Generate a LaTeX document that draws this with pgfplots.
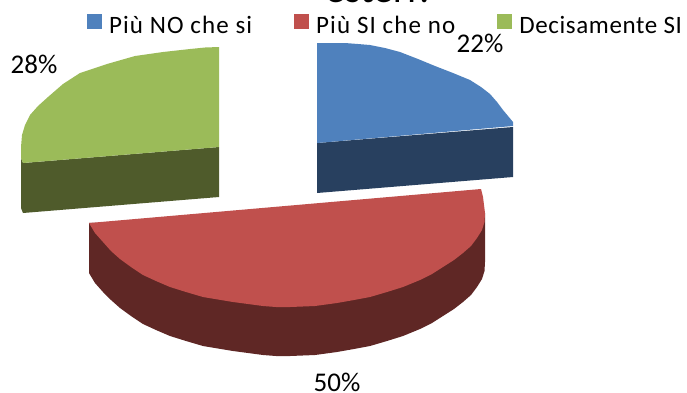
\documentclass[border=0pt]{standalone}
\usepackage{pgfplots}
\usepackage{fontspec}
\setmainfont{Carlito}
\newfontfamily\lsp[LetterSpace=4.5]{Carlito}
\newfontfamily\lspb[LetterSpace=2.5]{Carlito}
\pgfplotsset{compat=1.18}
\definecolor{cblue}{HTML}{4F81BD}
\definecolor{cred}{HTML}{C0504D}
\definecolor{cgreen}{HTML}{9BBB59}
\definecolor{dblue}{HTML}{28405F}
\definecolor{dred}{HTML}{5F2725}
\definecolor{dgreen}{HTML}{4F5B2B}
\begin{document}
\begin{tikzpicture}
\useasboundingbox (0,0) rectangle (687pt,392pt);
\clip (0,0) rectangle (687pt,392pt);
\begin{axis}[
  at={(0,0)}, anchor=south west,
  scale only axis, width=687pt, height=392pt,
  xmin=0, xmax=687, ymin=0, ymax=392, y dir=reverse,
  hide axis, clip=false,
  legend columns=3,
  legend style={draw=none, fill=none, at={(axis cs:87,13.5)}, anchor=north west,
    font=\fontsize{25}{25}\selectfont, inner sep=0pt, outer sep=0pt,
    /tikz/every odd column/.style={column sep=7pt},
    /tikz/every even column/.style={column sep=42pt},
    /tikz/column 4/.style={column sep=38pt},
    nodes={inner sep=0pt, outer sep=0pt}},
  legend image code/.code={\fill[#1,draw=none] (0pt,-3pt) rectangle (15pt,12pt);},
]
% side faces
\addplot[fill=dblue, draw=none, forget plot] coordinates {(317,143)(513,127)(513,177)(317,193)} --cycle;
\addplot[fill=dgreen, draw=none, forget plot] coordinates {(21,158)(23,163)(219,147)(219,197)(23,213)(21,208)} --cycle;
\addplot[fill=dred, draw=none, forget plot] coordinates {(89,223)(89,273)(95,283)(103,292)(111,300)(120,308)(131,316)(143,324)(156,330)(170,336)(186,341)(203,346)(233,351)(263,355)(276,356)(290,356)(315,355)(337,352)(354,349)(370,346)(387,341)(403,336)(420,329)(432,323)(443,316)(454,309)(463,302)(471,295)(477,287)(482,279)(484.5,271)(485,262)(485,213)} --cycle;
% top faces
\addplot[fill=cblue, draw=none] coordinates {(317,43)(345,43)(358,44)(370,45)(385,48)(400,52)(418,59)(435,66)(453,73)(470,80)(481,87)(490,94)(497,102)(503,110)(508,116)(513,122)(513,126)(317,143)} --cycle;
\addlegendentry{\lsp Più NO che si}
\addplot[fill=cred, draw=none] coordinates {(89,223)(481,189)(483,197)(485,213)(484.5,222)(482,230)(477,238)(471,246)(463,253)(454,260)(443,267)(432,274)(420,280)(403,287)(387,292)(370,297)(354,300)(337,303)(315,306)(290,307)(276,307)(263,306)(233,302)(203,297)(186,292)(170,287)(156,281)(143,275)(131,267)(120,259)(111,251)(103,242)(95,233)} --cycle;
\addlegendentry{\lsp Più SI che no}
\addplot[fill=cgreen, draw=none] coordinates {(219,47)(205,47.5)(190,49)(163,52)(135,56)(107,64)(80,73)(63,84)(48,97)(38,106)(30,115)(25,125)(22,135)(21,147)(21,158)(23,163)(219,147)} --cycle;
\addlegendentry{\lspb Decisamente SI}
\node[anchor=base, font=\fontsize{27}{27}\selectfont] at (axis cs:34,73) {28\%};
\node[anchor=base, font=\fontsize{27}{27}\selectfont] at (axis cs:480,52) {22\%};
\node[anchor=base, font=\fontsize{27}{27}\selectfont] at (axis cs:337,391.5) {50\%};
\node[anchor=base, font=\fontsize{40}{40}\selectfont] at (axis cs:380,2.5) {esteri?};
\end{axis}
\end{tikzpicture}
\end{document}
